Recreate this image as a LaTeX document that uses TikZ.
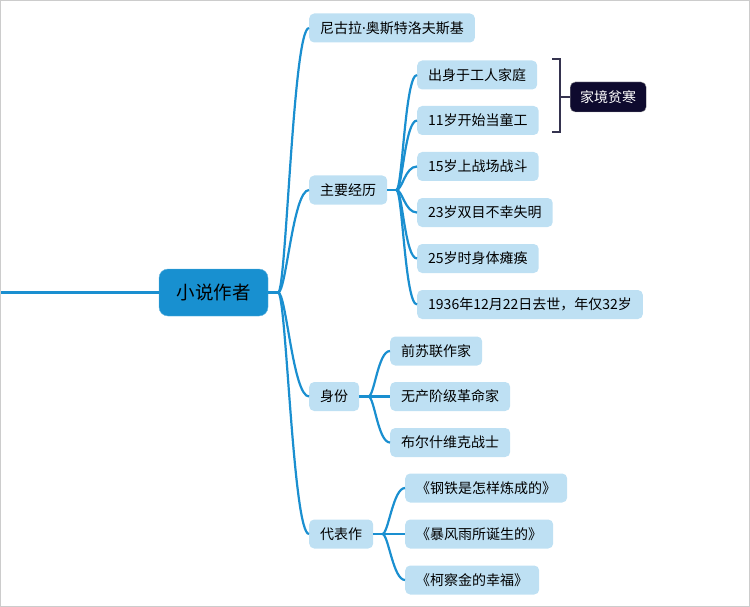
\documentclass[tikz,border=0pt]{standalone}
\usepackage{fontspec}
\setmainfont{Noto Sans CJK SC}
\newfontfamily\latinfont{Noto Sans}
\definecolor{linkblue}{HTML}{1A8FD0}
\definecolor{rootblue}{HTML}{1890D0}
\definecolor{topicblue}{HTML}{BEE0F3}
\definecolor{sumnavy}{HTML}{0E0A2E}
\definecolor{bracketgray}{HTML}{35334F}
\begin{document}
\begin{tikzpicture}[x=1pt, y=-1pt,
  root/.style = {fill=rootblue, draw=rootblue!70!white, rounded corners=9pt, minimum width=109pt, minimum height=47pt, font=\fontsize{18.5}{20}\selectfont},
  topic/.style = {fill=topicblue, rounded corners=5pt, minimum height=29pt, inner xsep=11pt, font=\fontsize{14}{15}\selectfont, anchor=west},
  summary/.style = {fill=sumnavy, draw=gray!70, rounded corners=5pt, minimum width=76pt, minimum height=30pt, text=white, font=\fontsize{14}{15}\selectfont, anchor=west},
  link/.style = {draw=linkblue, line width=2.2pt},
  bracket/.style = {draw=bracketgray, line width=2pt}]
\useasboundingbox (0,0) rectangle (750,607);
\draw[gray!40, line width=1pt] (0.5,0.5) rectangle (749.5,606.5);
% root
\node[root] (rt) at (213.5,292.5) {小说作者};
\coordinate (lft) at (1,292.5);
\draw[link] (lft) -- (rt.west);
% level one
\node[topic] (nk) at (309,28) {尼古拉{\latinfont ·}奥斯特洛夫斯基};
\node[topic] (zy) at (309,190) {主要经历};
\node[topic] (sf) at (309,396.5) {身份};
\node[topic] (db) at (309,534) {代表作};
\draw[link] (rt.east) -- ++(10,0) coordinate (rtj);
\draw[link] (rtj) .. controls +(8,0) and +(-16,0) .. (nk.west);
\draw[link] (rtj) .. controls +(8,0) and +(-16,0) .. (zy.west);
\draw[link] (rtj) .. controls +(8,0) and +(-16,0) .. (sf.west);
\draw[link] (rtj) .. controls +(8,0) and +(-16,0) .. (db.west);
% experience
\node[topic] (zy1) at (417,75) {出身于工人家庭};
\node[topic] (zy2) at (417,120.5) {11岁开始当童工};
\node[topic] (zy3) at (417,166.5) {15岁上战场战斗};
\node[topic] (zy4) at (417,212.5) {23岁双目不幸失明};
\node[topic] (zy5) at (417,258.5) {25岁时身体瘫痪};
\node[topic] (zy6) at (417,304.5) {1936年12月22日去世，年仅32岁};
\draw[link] (zy.east) -- ++(9,0) coordinate (zyj);
\draw[link] (zyj) .. controls +(6,0) and +(-12,0) .. (zy1.west);
\draw[link] (zyj) .. controls +(6,0) and +(-12,0) .. (zy2.west);
\draw[link] (zyj) .. controls +(6,0) and +(-12,0) .. (zy3.west);
\draw[link] (zyj) .. controls +(6,0) and +(-12,0) .. (zy4.west);
\draw[link] (zyj) .. controls +(6,0) and +(-12,0) .. (zy5.west);
\draw[link] (zyj) .. controls +(6,0) and +(-12,0) .. (zy6.west);
% summary
\node[summary] (sm) at (570,97) {家境贫寒};
\coordinate (brt) at (552,59);
\coordinate (brb) at (552,132);
\coordinate (brm) at (560,97);
\draw[bracket] (brt) -- ++(8,0) -- ++(0,73) -- (brb);
\draw[bracket] (brm) -- (sm.west);
% identity
\node[topic] (sf1) at (390,351) {前苏联作家};
\node[topic] (sf2) at (390,396.5) {无产阶级革命家};
\node[topic] (sf3) at (390,442.5) {布尔什维克战士};
\draw[link] (sf.east) -- ++(9,0) coordinate (sfj);
\draw[link] (sfj) .. controls +(6,0) and +(-12,0) .. (sf1.west);
\draw[link] (sfj) -- (sf2.west);
\draw[link] (sfj) .. controls +(6,0) and +(-12,0) .. (sf3.west);
% works
\node[topic] (db1) at (405,488) {《钢铁是怎样炼成的》};
\node[topic] (db2) at (405,534) {《暴风雨所诞生的》};
\node[topic] (db3) at (405,580) {《柯察金的幸福》};
\draw[link] (db.east) -- ++(9,0) coordinate (dbj);
\draw[link] (dbj) .. controls +(6,0) and +(-12,0) .. (db1.west);
\draw[link] (dbj) -- (db2.west);
\draw[link] (dbj) .. controls +(6,0) and +(-12,0) .. (db3.west);
\end{tikzpicture}
\end{document}
